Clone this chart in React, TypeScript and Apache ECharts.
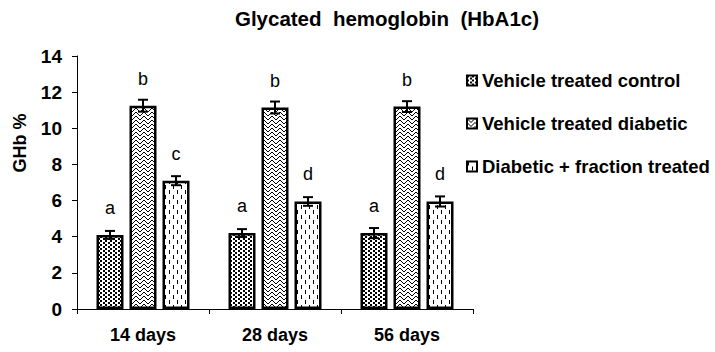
import React, { useEffect, useRef } from "react";
import * as echarts from "echarts";

const categories = ["14 days", "28 days", "56 days"];
const seriesNames = [
  "Vehicle treated control",
  "Vehicle treated diabetic",
  "Diabetic + fraction treated",
];
const controlValues = [4.1, 4.2, 4.2];
const diabeticValues = [11.25, 11.15, 11.2];
const fractionValues = [7.1, 5.95, 5.95];
const controlErrors = [0.22, 0.22, 0.28];
const diabeticErrors = [0.33, 0.33, 0.3];
const fractionErrors = [0.25, 0.24, 0.28];
const controlLetters = ["a", "a", "a"];
const diabeticLetters = ["b", "b", "b"];
const fractionLetters = ["c", "d", "d"];
const yTicks = { min: 0, max: 14, interval: 2 };

const FONT = "'Liberation Sans', Arial, sans-serif";

function makeTile(w: number, h: number, draw: (ctx: CanvasRenderingContext2D) => void) {
  const c = document.createElement("canvas");
  c.width = w;
  c.height = h;
  const ctx = c.getContext("2d")!;
  ctx.fillStyle = "#ffffff";
  ctx.fillRect(0, 0, w, h);
  ctx.fillStyle = "#000000";
  draw(ctx);
  return { image: c, repeat: "repeat", imageWidth: w, imageHeight: h } as any;
}

export default function App() {
  const ref = useRef<HTMLDivElement>(null);
  useEffect(() => {
    document.body.style.margin = "0";
    const chart = echarts.init(ref.current!, undefined, { renderer: "svg" });

    const dots = makeTile(5, 4, (ctx) => {
      ctx.fillRect(0, 0, 2, 2);
      ctx.fillRect(3, 2, 2, 2);
    });
    const zig = makeTile(8, 8, (ctx) => {
      for (let i = 0; i < 4; i++) {
        ctx.fillRect(i, i, 1, 1);
        ctx.fillRect(7 - i, i, 1, 1);
        ctx.fillRect(i, i + 4, 1, 1);
        ctx.fillRect(7 - i, i + 4, 1, 1);
      }
    });
    const dashes = makeTile(8, 10, (ctx) => {
      ctx.fillRect(1, 0, 1, 4);
      ctx.fillRect(5, 5, 1, 4);
    });

    const values = [controlValues, diabeticValues, fractionValues];
    const errors = [controlErrors, diabeticErrors, fractionErrors];
    const letters = [controlLetters, diabeticLetters, fractionLetters];
    const fills = [dots, zig, dashes];

    const BAR_W = 27;
    const GAP = 6;

    const errData: number[][] = [];
    values.forEach((vals, s) =>
      vals.forEach((v, i) => errData.push([i, v, errors[s][i], s]))
    );

    const barSeries = values.map((vals, s) => ({
      name: seriesNames[s],
      type: "bar",
      data: vals,
      barWidth: BAR_W,
      barGap: (GAP / BAR_W) * 100 + "%",
      itemStyle: { color: fills[s], borderColor: "#000", borderWidth: 2.5 },
      label: {
        show: true,
        position: "top",
        distance: 18,
        color: "#000",
        fontFamily: FONT,
        fontSize: 18,
        formatter: (p: any) => letters[s][p.dataIndex],
      },
    }));

    chart.setOption({
      animation: false,
      title: {
        text: "Glycated  hemoglobin  (HbA1c)",
        left: 382,
        textAlign: "center",
        top: 3,
        textStyle: { fontFamily: FONT, fontSize: 20.5, fontWeight: "bold", color: "#000" },
      },
      legend: {
        orient: "vertical",
        left: 461,
        top: 66,
        itemWidth: 10,
        itemHeight: 10,
        itemGap: 24,
        icon: "rect",
        data: seriesNames,
        textStyle: { fontFamily: FONT, fontSize: 18.5, fontWeight: "bold", color: "#000" },
        itemStyle: { borderColor: "#000", borderWidth: 2 },
      },
      grid: { left: 77, right: 242, top: 56, bottom: 43 },
      xAxis: {
        type: "category",
        data: categories,
        axisLine: { lineStyle: { color: "#000", width: 1 } },
        axisTick: { show: true, length: 5, lineStyle: { color: "#000" } },
        axisLabel: {
          margin: 17,
          color: "#000",
          fontFamily: FONT,
          fontSize: 18,
          fontWeight: "bold",
        },
      },
      yAxis: {
        type: "value",
        min: yTicks.min,
        max: yTicks.max,
        interval: yTicks.interval,
        axisLine: { show: true, lineStyle: { color: "#000", width: 1 } },
        axisTick: { show: true, length: 5, lineStyle: { color: "#000" } },
        splitLine: { show: false },
        axisLabel: {
          margin: 15,
          color: "#000",
          fontFamily: FONT,
          fontSize: 19,
          fontWeight: "bold",
        },
      },
      graphic: [
        {
          type: "text",
          x: 20,
          y: 143,
          rotation: Math.PI / 2,
          style: {
            text: "GHb %",
            fontFamily: FONT,
            fontSize: 18,
            fontWeight: "bold",
            fill: "#000",
            textAlign: "center",
            textVerticalAlign: "middle",
          },
        },
      ],
      series: [
        ...barSeries,
        {
          type: "custom",
          name: "errors",
          data: errData,
          encode: { x: 0, y: 1 },
          z: 10,
          renderItem: (_params: any, api: any) => {
            const x = api.value(0);
            const v = api.value(1);
            const e = api.value(2);
            const s = api.value(3);
            const off = (s - 1) * (BAR_W + GAP);
            const top = api.coord([x, v + e]);
            const bot = api.coord([x, v - e]);
            const cx = top[0] + off;
            const half = 5;
            const style = { stroke: "#000", lineWidth: 2 };
            return {
              type: "group",
              children: [
                { type: "line", shape: { x1: cx, y1: top[1], x2: cx, y2: bot[1] }, style },
                { type: "line", shape: { x1: cx - half, y1: top[1], x2: cx + half, y2: top[1] }, style },
                { type: "line", shape: { x1: cx - half, y1: bot[1], x2: cx + half, y2: bot[1] }, style },
              ],
            };
          },
        },
      ],
    } as any);
    return () => chart.dispose();
  }, []);
  return <div ref={ref} style={{ width: 715, height: 352 }} />;
}
